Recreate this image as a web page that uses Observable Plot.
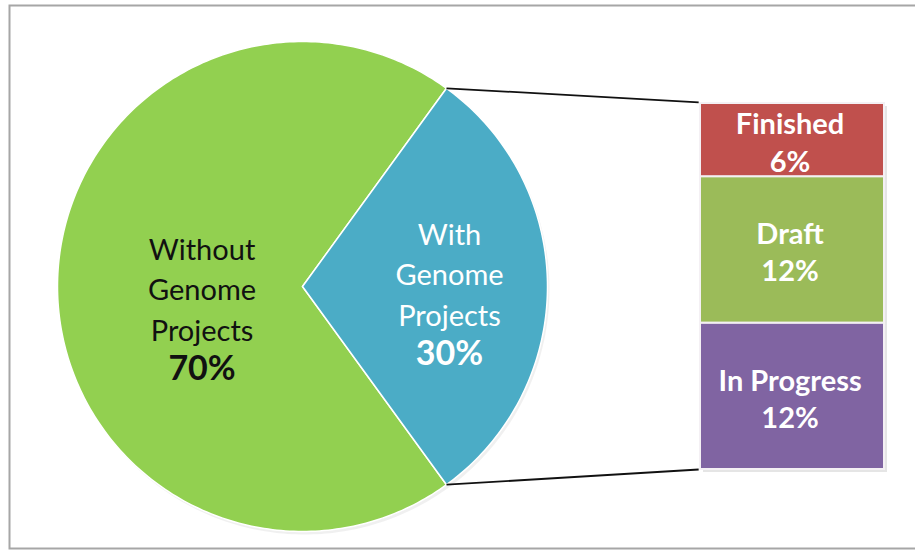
<!DOCTYPE html>
<html>
<head>
<meta charset="utf-8">
<script src="https://cdn.jsdelivr.net/npm/d3@7"></script>
<script src="https://cdn.jsdelivr.net/npm/@observablehq/plot@0.6"></script>
<style>
  html, body { margin: 0; padding: 0; background: #fff; }
  #chart { width: 915px; height: 550px; }
</style>
</head>
<body>
<div id="chart"></div>
<script>
// ---- data ----
const pieLabels = ["Without Genome Projects", "With Genome Projects"];
const pieValues = [70, 30];
const pieColors = ["#92d050", "#4bacc6"];
const pieTextColors = ["#111111", "#ffffff"];

const barLabels = ["Finished", "Draft", "In Progress"];
const barValues = [6, 12, 12];
const barColors = ["#c0504d", "#9bbb59", "#8064a2"];

// ---- layout (units: 1 unit = one percentage point of the bar) ----
const W = 915, H = 550;
const barTopPx = 103, barBottomPx = 469;
const barTotal = d3.sum(barValues);
const k = (barBottomPx - barTopPx) / barTotal; // px per unit
const cx = 302 / k, cy = barTotal / 2, R = 245 / k;
const barX1 = 700 / k, barX2 = 884 / k;

// pie slices: last slice (With) centred on the east direction
const pieTotal = d3.sum(pieValues);
const deg = Math.PI / 180;
const startA = 180 * pieValues[1] / pieTotal; // degrees
const slices = [];
let a = startA;
pieValues.forEach((v, i) => {
  const a0 = a, a1 = a + 360 * v / pieTotal;
  slices.push({ i, name: pieLabels[i], value: v, a0, a1, mid: (a0 + a1) / 2 });
  a = a1;
});
const piePts = [];
slices.forEach(s => {
  piePts.push({ s: s.i, x: cx, y: cy, c: pieColors[s.i] });
  const n = Math.ceil(s.a1 - s.a0);
  for (let j = 0; j <= n; j++) {
    const t = (s.a0 + (s.a1 - s.a0) * j / n) * deg;
    piePts.push({ s: s.i, x: cx + R * Math.cos(t), y: cy + R * Math.sin(t), c: pieColors[s.i] });
  }
});

// bar segments stacked bottom-up in reverse order
const segs = [];
let acc = 0;
for (let i = barValues.length - 1; i >= 0; i--) {
  segs.push({ name: barLabels[i], value: barValues[i], y1: acc, y2: acc + barValues[i], c: barColors[i] });
  acc += barValues[i];
}

// connectors from the edges of the "With" slice to the bar corners
const withSlice = slices[1];
const links = [
  { x1: cx + R * Math.cos(withSlice.a1 * deg), y1: cy + R * Math.sin(withSlice.a1 * deg), x2: barX1 - 0.15, y2: barTotal + 0.1 },
  { x1: cx + R * Math.cos(withSlice.a0 * deg), y1: cy + R * Math.sin(withSlice.a0 * deg), x2: barX1 - 0.15, y2: 0 }
];

// pie labels (offsets in px, converted to units)
const labelR = [0.41, 0.6];
const nameShiftPx = [1, -14];
const pctShiftPx = [83, 68];
const pieText = slices.map(s => {
  const x = cx + R * labelR[s.i] * Math.cos(s.mid * deg);
  const y = cy + R * labelR[s.i] * Math.sin(s.mid * deg);
  return {
    x,
    yName: y - nameShiftPx[s.i] / k,
    yPct: y - pctShiftPx[s.i] / k,
    name: s.name.split(" ").join("\n"),
    pct: s.value + "%",
    c: pieTextColors[s.i]
  };
});

const font = "Lato, 'Open Sans', sans-serif";

const chart = Plot.plot({
  width: W, height: H,
  margin: 0,
  x: { domain: [0, W / k], range: [0, W], axis: null },
  y: { domain: [(barBottomPx - H) / k, barBottomPx / k], range: [H, 0], axis: null },
  color: { type: "identity" },
  style: { fontFamily: font, background: "#fff" },
  marks: [
    Plot.frame({ stroke: "#a6a6a6", strokeWidth: 2, insetLeft: 9, insetTop: 5, insetRight: -10, insetBottom: 2 }),
    // pie shadow
    Plot.line(piePts, { x: "x", y: "y", z: "s", fill: "#000", fillOpacity: 0.06, stroke: "none", curve: "linear-closed", dx: 2, dy: 3 }),
    Plot.line(piePts, { x: "x", y: "y", z: "s", fill: "c", stroke: "#ffffff", strokeWidth: 1.5, curve: "linear-closed" }),
    Plot.link(links, { x1: "x1", y1: "y1", x2: "x2", y2: "y2", stroke: "#111", strokeWidth: 1.8 }),
    // bar shadow
    Plot.rect(segs, { x1: () => barX1, x2: () => barX2, y1: "y1", y2: "y2", fill: "#000", fillOpacity: 0.1, dx: 3, dy: 3 }),
    Plot.rect(segs, { x1: () => barX1, x2: () => barX2, y1: "y1", y2: "y2", fill: "c", stroke: "#f4f0f4", strokeWidth: 2 }),
    Plot.text(segs, { x: () => (barX1 + barX2) / 2 - 0.2, y: d => (d.y1 + d.y2) / 2, text: d => d.name + "\n" + d.value + "%", fill: "#fff", fontSize: 29, fontWeight: "bold", lineHeight: 1.28, dy: 1 }),
    Plot.text(pieText, { x: "x", y: "yName", text: "name", fill: "c", fontSize: 29, lineHeight: 1.39 }),
    Plot.text(pieText, { x: "x", y: "yPct", text: "pct", fill: "c", fontSize: 34, fontWeight: "bold" })
  ]
});
document.getElementById("chart").appendChild(chart);
</script>
</body>
</html>
